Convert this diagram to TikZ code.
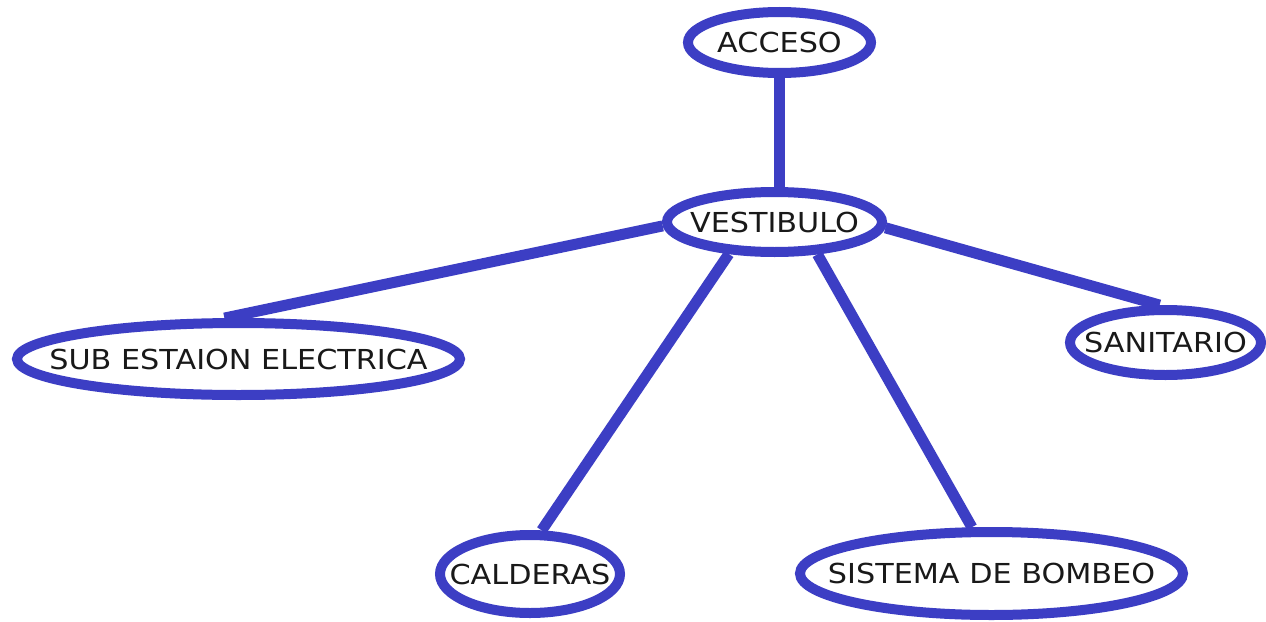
\documentclass[tikz,border=0pt]{standalone}
\usepackage{fontspec}
\setmainfont{DejaVu Sans}
\usetikzlibrary{shapes.geometric,backgrounds}
\definecolor{edgeblue}{RGB}{60,62,196}
\tikzset{
  blob/.style={ellipse, draw=edgeblue, line width=10pt, inner sep=0pt, fill=white},
  lbl/.style={inner sep=0pt, font=\fontsize{27.5}{30}\selectfont, text=black!90},
  link/.style={draw=edgeblue, line width=11pt}
}
\newcommand{\wide}[1]{\scalebox{1.1}[1]{#1}}
\begin{document}
\begin{tikzpicture}[x=1pt,y=-1pt]
\useasboundingbox (0,0) rectangle (1266,621);
\node[blob, minimum width=183pt, minimum height=61pt] (acc) at (779.5,42.5) {};
\node[blob, minimum width=215pt, minimum height=60pt] (vest) at (774.5,222) {};
\node[blob, minimum width=443pt, minimum height=72pt] (sub) at (238.5,359) {};
\node[blob, minimum width=191pt, minimum height=65pt] (san) at (1165.5,342.5) {};
\node[blob, minimum width=180pt, minimum height=78pt] (cal) at (530,574) {};
\node[blob, minimum width=383pt, minimum height=83pt] (bom) at (991.5,573.5) {};
\node[lbl] (taccs) at (acc) {\wide{ACCESO}};
\node[lbl] (tvest) at (vest) {\wide{VESTIBULO}};
\node[lbl] (tsub) at (sub) {\wide{SUB ESTAION ELECTRICA}};
\node[lbl] (tsan) at (san) {\wide{SANITARIO}};
\node[lbl] (tcal) at (cal) {\wide{CALDERAS}};
\node[lbl] (tbom) at (bom) {\wide{SISTEMA DE BOMBEO}};
\begin{scope}[on background layer]
\fill[white] (0,0) rectangle (1266,621);
\draw[link] (acc.south) -- (acc.south |- vest.north);
\draw[link] (vest.182.6) -- (sub.109);
\draw[link] (vest.357) -- (san.99);
\draw[link] (vest.215) -- (cal.75);
\draw[link] (vest.323) -- (bom.113);
\end{scope}
\end{tikzpicture}
\end{document}
